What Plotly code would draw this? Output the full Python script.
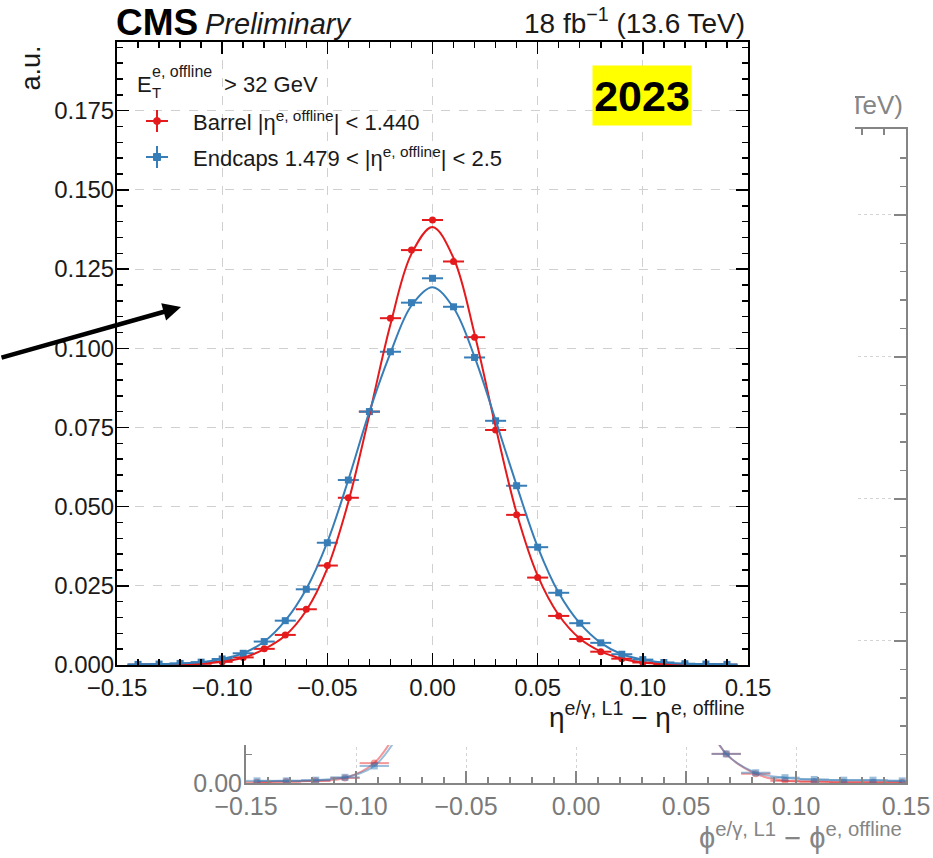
import plotly.graph_objects as go

W, H = 933, 858

# ---------------- data: main plot (eta residuals) ----------------
eta_bins = [-0.14, -0.13, -0.12, -0.11, -0.10, -0.09, -0.08, -0.07, -0.06, -0.05,
            -0.04, -0.03, -0.02, -0.01, 0.00, 0.01, 0.02, 0.03, 0.04, 0.05,
            0.06, 0.07, 0.08, 0.09, 0.10, 0.11, 0.12, 0.13, 0.14]
barrel = [0.0001, 0.0001, 0.0002, 0.0004, 0.0010, 0.0024, 0.0051, 0.0095, 0.0176, 0.0314,
          0.0528, 0.0800, 0.1095, 0.1310, 0.1405, 0.1274, 0.1035, 0.0742, 0.0474, 0.0276,
          0.0155, 0.0082, 0.0042, 0.0020, 0.0008, 0.0003, 0.0002, 0.0001, 0.0001]
endcap = [0.0002, 0.0003, 0.0005, 0.0009, 0.0019, 0.0037, 0.0074, 0.0140, 0.0239, 0.0386,
          0.0584, 0.0800, 0.0989, 0.1144, 0.1221, 0.1131, 0.0971, 0.0771, 0.0566, 0.0372,
          0.0228, 0.0132, 0.0070, 0.0034, 0.0017, 0.0008, 0.0004, 0.0003, 0.0002]
# fitted curves at the bin centres
barrel_fit = [0.0001, 0.0001, 0.0002, 0.0004, 0.0010, 0.0023, 0.0050, 0.0093, 0.0172, 0.0305,
              0.0515, 0.0790, 0.1075, 0.1298, 0.1383, 0.1285, 0.1045, 0.0752, 0.0480, 0.0282,
              0.0158, 0.0084, 0.0043, 0.0020, 0.0008, 0.0003, 0.0002, 0.0001, 0.0001]
endcap_fit = [0.0002, 0.0003, 0.0005, 0.0009, 0.0019, 0.0037, 0.0074, 0.0140, 0.0240, 0.0388,
              0.0585, 0.0800, 0.0985, 0.1135, 0.1193, 0.1128, 0.0973, 0.0773, 0.0567, 0.0373,
              0.0228, 0.0132, 0.0070, 0.0034, 0.0017, 0.0008, 0.0004, 0.0003, 0.0002]
eta_xerr = 0.005
eta_yerr = 0.0007

# ---------------- data: background plot (phi residuals, mostly hidden) ----------------
phi_bins_left = [-0.1450, -0.1317, -0.1183, -0.1050, -0.0917, -0.0783]
phi_bins_right = [0.0550, 0.0683, 0.0817, 0.0950, 0.1083, 0.1217, 0.1350, 0.1483]
phi_barrel_left = [0.0001, 0.0002, 0.0003, 0.0007, 0.0028, 0.0090]
phi_barrel_right = [0.0110, 0.0041, 0.0013, 0.0003, 0.0002, 0.0001, 0.0001, 0.0001]
phi_endcap_left = [0.0003, 0.0003, 0.0004, 0.0008, 0.0024, 0.0080]
phi_endcap_right = [0.0120, 0.0041, 0.00145, 0.00075, 0.0005, 0.0004, 0.0004, 0.0003]
phi_xerr = 0.00667

eta_ticks = [-0.15, -0.10, -0.05, 0.00, 0.05, 0.10, 0.15]

RED = "#e41a1c"
BLUE = "#377eb8"
RED_BG = "rgba(228,26,28,0.45)"
BLUE_BG = "rgba(55,126,184,0.5)"
GRAY = "#858585"
FONT = "Liberation Sans, Arial, sans-serif"


def px(x):
    return x / W


def py(y):
    return 1 - y / H


MAIN_L, MAIN_R, MAIN_T, MAIN_B = 117, 748, 42, 665
BG_L, BG_R, BG_T, BG_B = 246, 906, 129, 783
MASK_R, MASK_B = 855, 745

fig = go.Figure()

# ---- background (phi) subplot : x / y ----
phi_x = phi_bins_left + [None] + phi_bins_right
for vals_l, vals_r, col, sym in [(phi_barrel_left, phi_barrel_right, RED_BG, "circle"),
                                 (phi_endcap_left, phi_endcap_right, BLUE_BG, "square")]:
    fig.add_trace(go.Scatter(x=phi_x, y=vals_l + [None] + vals_r, mode="lines",
                             line=dict(color=col, width=2, shape="spline"),
                             xaxis="x", yaxis="y", showlegend=False, hoverinfo="skip"))
    fig.add_trace(go.Scatter(x=phi_bins_left + phi_bins_right, y=vals_l + vals_r, mode="markers",
                             marker=dict(color=col, size=7, symbol=sym),
                             error_x=dict(type="constant", value=phi_xerr, color=col, thickness=2, width=0),
                             xaxis="x", yaxis="y", showlegend=False, hoverinfo="skip"))

# ---- lumi label of the background plot : x2 / y2 (sits under the mask) ----
fig.add_trace(go.Scatter(x=[1.0], y=[0.5], mode="text",
                         text=["18 fb<sup>\u22121</sup> (13.6 TeV)"], textposition="middle left",
                         textfont=dict(family=FONT, size=26, color=GRAY),
                         cliponaxis=False, xaxis="x2", yaxis="y2", showlegend=False, hoverinfo="skip"))

# ---- mask subplot : x3 / y3 (white background hiding the underlying plot) ----
fig.add_trace(go.Scatter(x=[0], y=[0], mode="markers", marker=dict(opacity=0),
                         xaxis="x3", yaxis="y3", showlegend=False, hoverinfo="skip"))

# ---- main (eta) subplot : x4 / y4 ----
fig.add_trace(go.Scatter(x=eta_bins, y=barrel, mode="markers",
                         marker=dict(color=RED, size=7, symbol="circle"),
                         error_x=dict(type="constant", value=eta_xerr, color=RED, thickness=2, width=0),
                         error_y=dict(type="constant", value=eta_yerr, color=RED, thickness=2, width=0),
                         xaxis="x4", yaxis="y4", showlegend=False, hoverinfo="skip"))
fig.add_trace(go.Scatter(x=eta_bins, y=endcap, mode="markers",
                         marker=dict(color=BLUE, size=7, symbol="square"),
                         error_x=dict(type="constant", value=eta_xerr, color=BLUE, thickness=2, width=0),
                         error_y=dict(type="constant", value=eta_yerr, color=BLUE, thickness=2, width=0),
                         xaxis="x4", yaxis="y4", showlegend=False, hoverinfo="skip"))
fig.add_trace(go.Scatter(x=eta_bins, y=barrel_fit, mode="lines",
                         line=dict(color=RED, width=2, shape="spline", smoothing=1.0),
                         xaxis="x4", yaxis="y4", showlegend=False, hoverinfo="skip"))
fig.add_trace(go.Scatter(x=eta_bins, y=endcap_fit, mode="lines",
                         line=dict(color=BLUE, width=2, shape="spline", smoothing=1.0),
                         xaxis="x4", yaxis="y4", showlegend=False, hoverinfo="skip"))


def axis_common(color, lw, fsize, fcolor, griddash, gridcolor):
    return dict(showline=True, linecolor=color, linewidth=lw, mirror="ticks",
                ticks="inside", ticklen=12, tickwidth=1.5, tickcolor=color,
                tickfont=dict(family=FONT, size=fsize, color=fcolor),
                showgrid=True, gridcolor=gridcolor, gridwidth=1, griddash=griddash,
                zeroline=False, fixedrange=True, automargin=False)


bg_common = axis_common(GRAY, 2, 25, "#7a7a7a", "dot", "#d4d4d4")
main_common = axis_common("#000000", 2, 24, "#1a1a1a", "dash", "#d0d0d0")
hidden = dict(visible=False, range=[0, 1], automargin=False, fixedrange=True)

fig.update_layout(
    width=W, height=H,
    margin=dict(l=0, r=0, t=0, b=0, pad=0, autoexpand=False),
    paper_bgcolor="white", plot_bgcolor="white",
    font=dict(family=FONT, color="#1a1a1a"),
    showlegend=False,
    xaxis=dict(domain=[px(BG_L), px(BG_R)], range=[-0.15, 0.15], anchor="y",
               tickvals=eta_ticks, tickformat=".2f",
               minor=dict(dtick=0.01, tick0=-0.15, ticks="inside", ticklen=6, tickcolor=GRAY, showgrid=False),
               **bg_common),
    yaxis=dict(domain=[py(BG_B), py(BG_T)], range=[0, 0.0921], anchor="x",
               dtick=0.02, tick0=0, tickformat=".2f", ticklabelstandoff=-3,
               minor=dict(dtick=0.004, tick0=0, ticks="inside", ticklen=6, tickcolor=GRAY, showgrid=False),
               **bg_common),
    xaxis2=dict(domain=[px(500), px(903)], anchor="y2", **hidden),
    yaxis2=dict(domain=[py(127), py(88)], anchor="x2", **hidden),
    xaxis3=dict(domain=[0, px(MASK_R)], anchor="y3", **hidden),
    yaxis3=dict(domain=[py(MASK_B), 1], anchor="x3", **hidden),
    xaxis4=dict(domain=[px(MAIN_L), px(MAIN_R)], range=[-0.15, 0.15], anchor="y4",
                tickvals=eta_ticks, tickformat=".2f",
                minor=dict(dtick=0.01, tick0=-0.15, ticks="inside", ticklen=6, tickcolor="#000", showgrid=False),
                **main_common),
    yaxis4=dict(domain=[py(MAIN_B), py(MAIN_T)], range=[0, 0.1967], anchor="x4",
                dtick=0.025, tick0=0, tickformat=".3f", ticklabelstandoff=-4,
                minor=dict(dtick=0.005, tick0=0, ticks="inside", ticklen=6, tickcolor="#000", showgrid=False),
                **main_common),
)

shapes = []
# legend glyphs (cross with marker)
for cy, col, kind in [(121, RED, "circle"), (157, BLUE, "rect")]:
    cx = 157
    shapes.append(dict(type="line", xref="paper", yref="paper", x0=px(cx - 11), x1=px(cx + 11),
                       y0=py(cy), y1=py(cy), line=dict(color=col, width=2)))
    shapes.append(dict(type="line", xref="paper", yref="paper", x0=px(cx), x1=px(cx),
                       y0=py(cy - 11), y1=py(cy + 11), line=dict(color=col, width=2)))
    shapes.append(dict(type=kind, xref="paper", yref="paper", x0=px(cx - 3.5), x1=px(cx + 3.5),
                       y0=py(cy - 3.5), y1=py(cy + 3.5), fillcolor=col, line=dict(color=col, width=1)))
fig.update_layout(shapes=shapes)

ann = []


def text(t, x, y, size, xanchor="left", yanchor="middle", color="#1a1a1a", textangle=0, family=FONT, **kw):
    ann.append(dict(text=t, x=px(x), y=py(y), xref="paper", yref="paper", showarrow=False,
                    xanchor=xanchor, yanchor=yanchor, textangle=textangle,
                    font=dict(family=family, size=size, color=color), **kw))


text("<b>CMS</b>", 114, 22, 37, color="#000")
text("<i>Preliminary</i>", 203, 24, 29, color="#1a1a1a")
text("18 fb<sup>\u22121</sup> (13.6 TeV)", 747, 21, 28, xanchor="right")
text("a.u.", 30, 43, 27, xanchor="center", yanchor="top", textangle=-90)
text("\u03b7<sup>e/\u03b3, L1</sup> \u2212 \u03b7<sup>e, offline</sup>", 747, 715, 28, xanchor="right")
text("\u03d5<sup>e/\u03b3, L1</sup> \u2212 \u03d5<sup>e, offline</sup>", 904, 836, 29, xanchor="right",
     color=GRAY, family="Liberation Sans, DejaVu Sans, sans-serif")
# legend header (E with stacked sub/superscript) and entries
text("E", 135, 84, 22)
text("e, offline", 150, 71, 16)
text("T", 150, 92, 15)
text("> 32 GeV", 222, 84, 22)
text("Barrel |\u03b7<sup>e, offline</sup>| < 1.440", 191, 121, 22)
text("Endcaps 1.479 < |\u03b7<sup>e, offline</sup>| < 2.5", 191, 157, 22)
# yellow year label
ann.append(dict(text="<b>2023</b>", x=px(642), y=py(96), xref="paper", yref="paper", showarrow=False,
                xanchor="center", yanchor="middle", width=98, height=59, bgcolor="#ffff00",
                borderpad=0, font=dict(family=FONT, size=43, color="#000")))
# arrow
ann.append(dict(text="", x=px(181), y=py(307), xref="paper", yref="paper", showarrow=True,
                ax=-184, ay=51, axref="pixel", ayref="pixel", arrowhead=2, arrowsize=0.8,
                arrowwidth=4.5, arrowcolor="#000", standoff=0))
fig.update_layout(annotations=ann)

fig.write_html("out.html", config={"displayModeBar": False, "staticPlot": True},
               post_script="document.body.style.margin='0px';")
